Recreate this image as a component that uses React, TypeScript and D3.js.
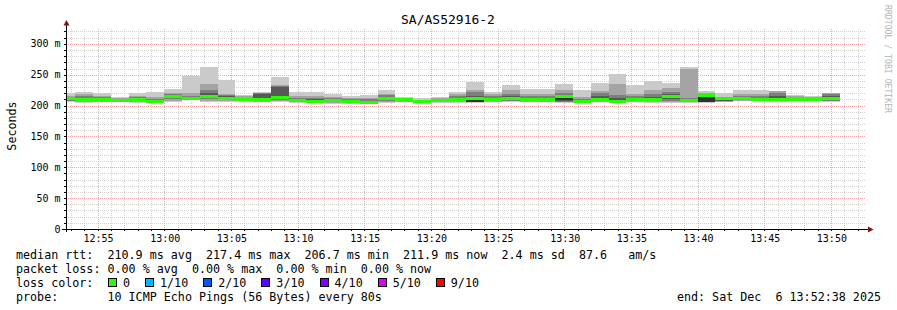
import React from 'react';
import * as d3 from 'd3';

const title = 'SA/AS52916-2';
const yAxisLabel = 'Seconds';
const startTime = new Date(2025, 11, 6, 12, 52, 38);
const endTime = new Date(2025, 11, 6, 13, 52, 38);
const firstStep = new Date(2025, 11, 6, 12, 52, 0);
const stepSeconds = 80;
const yMax = 324;
const yMajorTicks = [0, 50, 100, 150, 200, 250, 300];
const yTickLabels = ['0', '50 m', '100 m', '150 m', '200 m', '250 m', '300 m'];
const yMinorTicks = [10,20,30,40,60,70,80,90,110,120,130,140,160,170,180,190,210,220,230,240,260,270,280,290,310,320];

const medians = [212, 210, 211, 209, 210, 208, 215, 212, 216, 213, 210.5, 211, 214, 208.5, 208, 208.5, 208, 206.5, 212, 210, 206.7, 209, 211, 212.5, 210, 213, 210, 211, 216, 207.5, 211, 208, 210, 210, 215, 209, 217.4, 212, 212, 211, 211, 211, 210.5, 211.9];

const pings = [
  [206, 207, 208, 209, 210, 212, 213, 214, 216, 220],
  [204, 206, 208, 209, 210, 211, 213, 216, 218, 222.5],
  [205, 206, 208, 209, 210, 211, 212, 214, 216, 221],
  [205, 206, 207, 208, 208, 209, 210, 211, 212, 214],
  [204, 205, 207, 208, 209, 210, 212, 214, 216, 220],
  [204, 205, 206, 207, 207, 208, 209, 211, 214, 222.5],
  [206, 208, 210, 212, 213, 215, 216, 218, 220, 226],
  [209, 210, 211, 211, 212, 212, 213, 215, 220, 247.5],
  [206, 208, 210, 213, 215, 217, 220, 224.7, 235.6, 262],
  [206, 208, 210, 211, 212, 213, 215, 217, 219, 242],
  [206, 207, 208, 209, 210, 211, 212, 213, 215, 217.7],
  [205, 206, 208, 209, 210, 212, 218, 220, 221, 222.5],
  [206, 207, 209, 211, 213, 215, 229.6, 231, 234, 246.5],
  [204, 205, 206, 207, 208, 209, 210, 212, 215, 222.5],
  [204, 205, 206, 207, 208, 209, 210, 212, 216, 222.5],
  [203, 204, 205, 206, 207, 209, 210, 212, 214, 218],
  [203, 204, 205, 206, 207, 208, 209, 210, 212, 215],
  [203, 204, 205, 206, 206, 207, 208, 210, 212, 217],
  [204, 206, 208, 210, 211, 212, 214, 217, 219, 224.7],
  [205, 206, 207, 208, 209, 210, 211, 212, 213, 214.4],
  [203, 203.5, 204, 204.5, 205, 206, 207, 208, 209, 212.8],
  [204, 205, 206, 207, 208, 209, 210, 211, 212, 214],
  [204, 205, 207, 209, 210, 211, 213, 216, 218, 221.5],
  [204, 205, 205.5, 206, 206.5, 212, 216, 222, 225.8, 237.8],
  [205, 206, 207, 208, 209, 211, 213, 216, 218, 222.5],
  [205, 207, 208, 209, 210, 212, 215, 218, 224.7, 232.9],
  [205, 206, 207, 208, 209, 210, 212, 215, 218, 227.5],
  [205, 206, 207, 208, 209, 211, 213, 216, 219, 227.5],
  [204, 205, 206, 207, 209, 212, 216, 220, 224.7, 235.6],
  [204, 205, 206, 206.5, 207, 208, 209, 211, 214, 225.8],
  [205, 206, 208, 209, 210, 212, 216, 220, 224, 237],
  [204, 205, 206, 207, 207.5, 208.5, 212, 217, 235.6, 251.9],
  [205, 206, 207, 208, 209, 211, 213, 215, 218, 234],
  [204, 205, 207, 208, 209, 211, 214, 219, 225, 240.5],
  [204, 206, 208, 210, 212, 215, 218, 222, 228, 237],
  [204, 205, 206, 207, 208, 209, 211, 213, 260, 261.7],
  [204, 205, 205.5, 206, 206.5, 217, 218, 219, 220, 224],
  [205, 206, 207, 208, 209, 210, 211, 212, 214, 220],
  [207, 208, 209, 210, 211, 212, 213, 215, 218, 225.8],
  [207, 208, 209, 210, 210.5, 211.5, 213, 216, 219, 225.8],
  [206, 207, 207.5, 208, 208.5, 212, 216, 221, 223, 224],
  [207, 208, 209, 210, 210.5, 211.5, 212, 213, 215, 216.6],
  [207, 208, 209, 209.5, 210, 211, 212, 213, 214, 215],
  [206, 207, 208, 209, 210, 212, 215, 219, 220, 220.5],
];

const smokeColors = ['#cacaca', '#a4a4a4', '#7e7e7e', '#585858', '#323232'];
const medianColor = '#26ff00';
const lossLabels = ['0', '1/10', '2/10', '3/10', '4/10', '5/10', '9/10'];
const lossColors = ['#26ff00', '#00b8ff', '#0059ff', '#5e00ff', '#7e00ff', '#dd00ff', '#ff0000'];

const legendLines = [
  'median rtt:  210.9 ms avg  217.4 ms max  206.7 ms min  211.9 ms now  2.4 ms sd  87.6   am/s',
  'packet loss: 0.00 % avg  0.00 % max  0.00 % min  0.00 % now',
  'loss color:',
  'probe:       10 ICMP Echo Pings (56 Bytes) every 80s',
];
const endLabel = 'end: Sat Dec  6 13:52:38 2025';
const watermark = 'RRDTOOL / TOBI OETIKER';

const W = 897;
const H = 310;
const L = 66, R = 866, T = 29, B = 229;
const FONT = '"DejaVu Sans Mono", monospace';

export default function App() {
  const x = d3.scaleTime().domain([startTime, endTime]).range([L, R]);
  const y = d3.scaleLinear().domain([0, yMax]).range([B, T]);
  const px = (v: number) => Math.round(v);

  const minorMinutes = x.ticks(d3.timeMinute.every(1) as any);
  const majorMinutes = x.ticks(d3.timeMinute.every(5) as any);
  const fmt = d3.timeFormat('%H:%M');

  const steps = pings.map((p, i) => {
    const t0 = new Date(firstStep.getTime() + i * stepSeconds * 1000);
    const t1 = new Date(t0.getTime() + stepSeconds * 1000);
    return { x0: Math.max(L, px(x(t0))), x1: px(x(t1)), p, med: medians[i] };
  });

  const legendX = 16;
  const charW = 7.04;
  let cx = 108;
  const lossItems = lossLabels.map((lab, i) => {
    const item = { bx: cx, lx: cx + 15, lab, color: lossColors[i] };
    cx = cx + 15 + lab.length * charW + 15;
    return item;
  });

  return (
    <svg width={W} height={H} style={{ position: 'absolute', left: 0, top: 0, background: '#fff' }}>
      <rect x={0} y={0} width={W} height={H} fill="#ffffff" />
      {/* grid */}
      <g shapeRendering="crispEdges">
        {yMinorTicks.map((v) => (
          <line key={'ym' + v} x1={L} x2={R} y1={px(y(v)) + 0.5} y2={px(y(v)) + 0.5} stroke="#d2d2d2" strokeDasharray="1,1" />
        ))}
        {minorMinutes.map((t) => (
          <line key={'xm' + t.getTime()} x1={px(x(t)) + 0.5} x2={px(x(t)) + 0.5} y1={T} y2={B} stroke="#d2d2d2" strokeDasharray="1,1" />
        ))}
        {yMajorTicks.slice(1).map((v) => (
          <line key={'yM' + v} x1={L} x2={R} y1={px(y(v)) + 0.5} y2={px(y(v)) + 0.5} stroke="#ffa0a0" strokeDasharray="1,1" />
        ))}
        {majorMinutes.map((t) => (
          <line key={'xM' + t.getTime()} x1={px(x(t)) + 0.5} x2={px(x(t)) + 0.5} y1={T} y2={B} stroke="#ffa0a0" strokeDasharray="1,1" />
        ))}
      </g>
      {/* smoke */}
      <g shapeRendering="crispEdges">
        {steps.map((s, i) => (
          <g key={'s' + i}>
            {smokeColors.map((c, k) => {
              const lo = px(y(s.p[k]));
              const hi = px(y(s.p[9 - k]));
              return <rect key={k} x={s.x0} width={s.x1 - s.x0} y={hi} height={Math.max(1, lo - hi)} fill={c} />;
            })}
            <rect x={s.x0} width={s.x1 - s.x0} y={px(y(s.med)) - 1.5} height={3} fill={medianColor} />
          </g>
        ))}
      </g>
      {/* axes */}
      <g shapeRendering="crispEdges">
        {yMajorTicks.concat(yMinorTicks).map((v) => (
          <line key={'yt' + v} x1={L - 2} x2={L} y1={px(y(v)) + 0.5} y2={px(y(v)) + 0.5} stroke="#000" />
        ))}
        {minorMinutes.map((t) => (
          <line key={'xt' + t.getTime()} x1={px(x(t)) + 0.5} x2={px(x(t)) + 0.5} y1={B} y2={B + 2} stroke="#000" />
        ))}
        <line x1={L + 0.5} x2={L + 0.5} y1={24} y2={B + 3} stroke="#000" />
        <line x1={L - 4} x2={R + 3} y1={B + 0.5} y2={B + 0.5} stroke="#000" />
      </g>
      <path d={`M${L - 2.5},25.5 L${L + 3.5},25.5 L${L + 0.5},20 Z`} fill="#7f1414" />
      <path d={`M${R + 2},${B - 2.5} L${R + 2},${B + 3.5} L${R + 7.5},${B + 0.5} Z`} fill="#7f1414" />
      {/* y tick labels */}
      {yMajorTicks.map((v, i) => (
        <text key={'yl' + v} x={60.5} y={y(v)} dy="0.35em" textAnchor="end" fontFamily={FONT} fontSize={10} fill="#000" style={{ whiteSpace: 'pre' }}>
          {yTickLabels[i]}
        </text>
      ))}
      {/* x tick labels */}
      {majorMinutes.map((t) => (
        <text key={'xl' + t.getTime()} x={x(t) + 1} y={241.5} textAnchor="middle" fontFamily={FONT} fontSize={10} fill="#000">
          {fmt(t)}
        </text>
      ))}
      <text x={448} y={24} textAnchor="middle" fontFamily={FONT} fontSize={13} fill="#000">{title}</text>
      <text transform="translate(15.5,126) rotate(-90)" textAnchor="middle" fontFamily={FONT} fontSize={11.7} fill="#000">{yAxisLabel}</text>
      <text transform="translate(885,5) rotate(90)" fontFamily={FONT} fontSize={9} fill="#b4b4b4" textLength={108} lengthAdjust="spacingAndGlyphs">{watermark}</text>
      {/* legend */}
      {legendLines.map((l, i) => (
        <text key={'lg' + i} x={legendX} y={258.5 + i * 14} fontFamily={FONT} fontSize={11.7} fill="#000" style={{ whiteSpace: 'pre' }}>{l}</text>
      ))}
      {lossItems.map((it) => (
        <g key={it.lab}>
          <rect x={Math.round(it.bx) + 0.5} y={278.5} width={8} height={8} fill={it.color} stroke="#000" strokeWidth={1} shapeRendering="crispEdges" />
          <text x={it.lx} y={286.5} fontFamily={FONT} fontSize={11.7} fill="#000">{it.lab}</text>
        </g>
      ))}
      <text x={881} y={300.5} textAnchor="end" fontFamily={FONT} fontSize={11.7} fill="#000" style={{ whiteSpace: 'pre' }}>{endLabel}</text>
    </svg>
  );
}
